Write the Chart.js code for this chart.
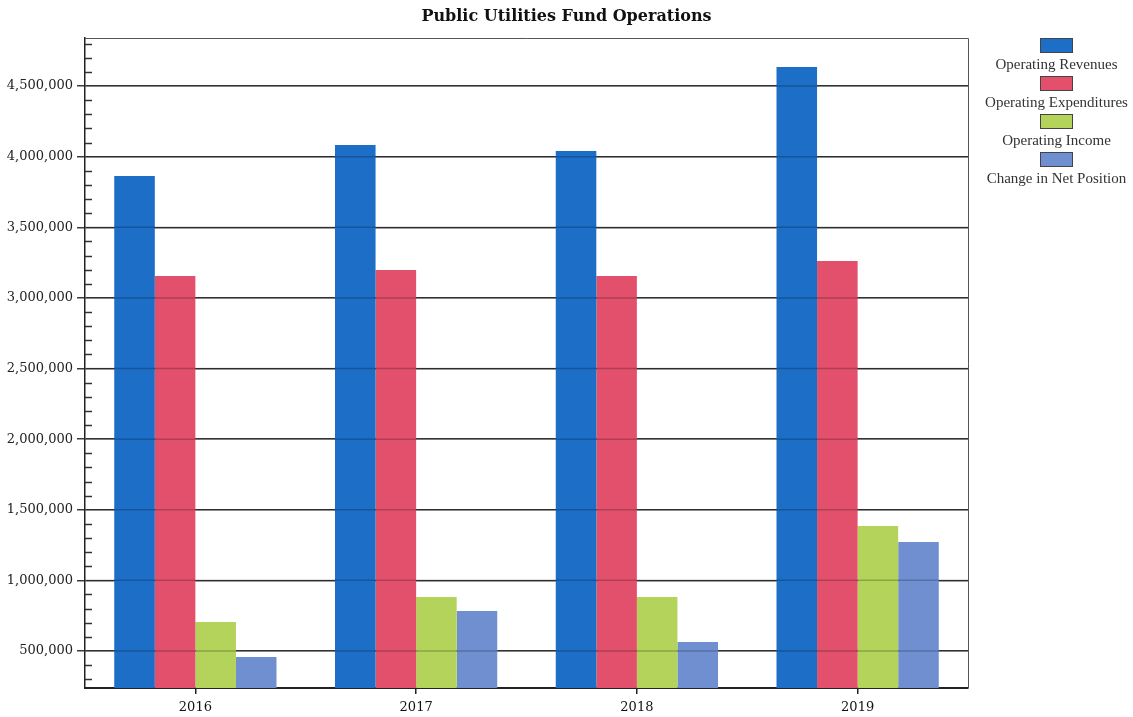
<!DOCTYPE html>
<html>
<head>
<meta charset="utf-8">
<script src="https://cdn.jsdelivr.net/npm/chart.js@4/dist/chart.umd.min.js"></script>
<style>
    html, body { margin: 0; padding: 0; background: #fff; }
    #wrap { position: relative; width: 1133px; height: 717px; }
    #title {
        position: absolute; left: 0; top: 6px; width: 1133px;
        text-align: center; font: bold 16px "DejaVu Serif"; color: #111;
    }
    #legend {
        position: absolute; left: 980px; top: 38px; width: 153px;
        font: 15px "Liberation Serif"; color: #333;
    }
    .item { display: flex; flex-direction: column; align-items: center; }
    .box { width: 31px; height: 13px; border: 1px solid #444; }
    .lbl { line-height: 23px; white-space: nowrap; }
</style>
</head>
<body>
<div id="wrap">
    <canvas id="chart" width="1133" height="717"></canvas>
    <div id="title">Public Utilities Fund Operations</div>
    <div id="legend"></div>
</div>
<script>
var years = ["2016", "2017", "2018", "2019"];
var revenues = [3863000, 4082000, 4040000, 4635000];
var expenditures = [3155000, 3197000, 3155000, 3261000];
var income = [705000, 882000, 882000, 1385000];
var netPosition = [458000, 783000, 564000, 1272000];
var yTicks = [500000, 1000000, 1500000, 2000000, 2500000, 3000000, 3500000, 4000000, 4500000];
var yMin = 238000;
var yMax = 4840000;
var minorStep = 100000;

// small inside ticks every 100k, faint grid over bars, top/right frame
var extras = {
    id: "extras",
    afterDatasetsDraw: function (chart) {
        var ctx = chart.ctx;
        var area = chart.chartArea;
        var y = chart.scales.y;
        ctx.save();
        ctx.strokeStyle = "rgba(0,0,0,0.22)";
        ctx.lineWidth = 1.5;
        yTicks.forEach(function (v) {
            var py = y.getPixelForValue(v);
            ctx.beginPath();
            ctx.moveTo(area.left, py);
            ctx.lineTo(area.right, py);
            ctx.stroke();
        });
        ctx.restore();
    },
    afterDraw: function (chart) {
        var ctx = chart.ctx;
        var area = chart.chartArea;
        var y = chart.scales.y;
        ctx.save();
        ctx.strokeStyle = "#333";
        ctx.lineWidth = 1.5;
        for (var v = Math.ceil(yMin / minorStep) * minorStep; v <= yMax; v += minorStep) {
            if (v % 500000 === 0) continue;
            var py = Math.round(y.getPixelForValue(v)) + 0.5;
            ctx.beginPath();
            ctx.moveTo(area.left, py);
            ctx.lineTo(area.left + 7, py);
            ctx.stroke();
        }
        ctx.strokeStyle = "#555";
        ctx.lineWidth = 1;
        ctx.beginPath();
        ctx.moveTo(area.left, area.top + 0.5);
        ctx.lineTo(area.right + 0.5, area.top + 0.5);
        ctx.lineTo(area.right + 0.5, area.bottom);
        ctx.stroke();
        ctx.restore();
    }
};

function buildLegend(chart) {
    var el = document.getElementById("legend");
    chart.data.datasets.forEach(function (ds) {
        var item = document.createElement("div");
        item.className = "item";
        var box = document.createElement("div");
        box.className = "box";
        box.style.background = ds.backgroundColor;
        var lbl = document.createElement("div");
        lbl.className = "lbl";
        lbl.textContent = ds.label;
        item.appendChild(box);
        item.appendChild(lbl);
        el.appendChild(item);
    });
}

function drawBarChart(id) {
    var ctx = document.getElementById(id).getContext("2d");
    var tickFont = { family: "DejaVu Serif", size: 13 };
    var chart = new Chart(ctx, {
        type: "bar",
        data: {
            labels: years,
            datasets: [
                { label: "Operating Revenues", data: revenues, backgroundColor: "#1c6ec6" },
                { label: "Operating Expenditures", data: expenditures, backgroundColor: "#e2506b" },
                { label: "Operating Income", data: income, backgroundColor: "#b3d35a" },
                { label: "Change in Net Position", data: netPosition, backgroundColor: "#6f8fd1" }
            ]
        },
        options: {
            responsive: false,
            animation: false,
            layout: { padding: { top: 38, right: 165, left: 0, bottom: 0 } },
            datasets: {
                bar: { categoryPercentage: 0.735, barPercentage: 1.0, borderWidth: 0 }
            },
            plugins: {
                legend: { display: false },
                title: { display: false },
                tooltip: { enabled: false }
            },
            scales: {
                x: {
                    grid: {
                        offset: false,
                        drawOnChartArea: false,
                        drawTicks: true,
                        tickLength: 6,
                        color: "#222",
                        lineWidth: 1.5
                    },
                    border: { display: true, color: "#222", width: 2 },
                    ticks: { font: tickFont, color: "#111", padding: 6 },
                    afterFit: function (scale) { scale.height = 29; }
                },
                y: {
                    min: yMin,
                    max: yMax,
                    afterBuildTicks: function (scale) {
                        scale.ticks = yTicks.map(function (v) { return { value: v }; });
                    },
                    grid: {
                        color: "#3c3c3c",
                        lineWidth: 1.5,
                        drawTicks: true,
                        tickLength: 8
                    },
                    border: { display: true, color: "#222", width: 1.5 },
                    ticks: {
                        font: tickFont,
                        color: "#222",
                        padding: 4,
                        callback: function (v) { return v.toLocaleString("en-US"); }
                    },
                    afterFit: function (scale) { scale.width = 85; }
                }
            }
        },
        plugins: [extras]
    });
    buildLegend(chart);
}

drawBarChart("chart");
</script>
</body>
</html>
